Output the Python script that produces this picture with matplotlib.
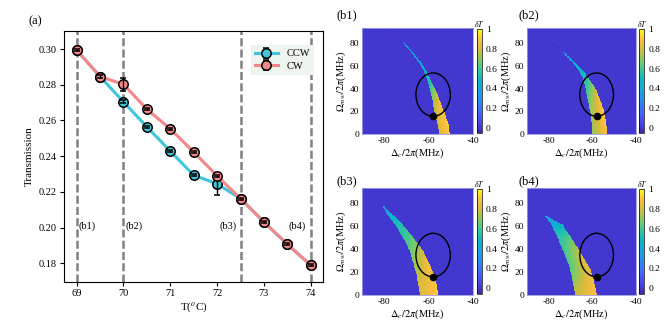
import numpy as np
import matplotlib
matplotlib.use("Agg")
import matplotlib.pyplot as plt
from matplotlib.colors import LinearSegmentedColormap
from matplotlib.patches import Ellipse

plt.rcParams['font.family'] = ['Liberation Serif', 'DejaVu Serif']
plt.rcParams['mathtext.fontset'] = 'stix'
plt.rcParams['axes.unicode_minus'] = False

# ---------------- panel (a) data ----------------
temps = [69.0, 69.5, 70.0, 70.5, 71.0, 71.5, 72.0, 72.5, 73.0, 73.5, 74.0]
cw_vals = [0.2994, 0.2846, 0.2802, 0.2663, 0.2552, 0.2423, 0.2289, 0.2162, 0.2031, 0.1906, 0.1789]
cw_err = [0.0006, 0.0006, 0.0035, 0.0006, 0.0006, 0.0006, 0.0008, 0.0006, 0.0006, 0.0006, 0.0006]
ccw_vals = [0.2994, 0.2846, 0.2704, 0.2564, 0.2428, 0.2293, 0.2245, 0.2162, 0.2031, 0.1906, 0.1789]
ccw_err = [0.0006, 0.0006, 0.0008, 0.0006, 0.0006, 0.0006, 0.0060, 0.0006, 0.0006, 0.0006, 0.0006]
vline_temps = [69.0, 70.0, 72.5, 74.0]
region_labels = ['(b1)', '(b2)', '(b3)', '(b4)']
region_label_x = [69.04, 70.05, 72.04, 73.52]
region_label_y = 0.2009

# ---------------- heat-map panels data ----------------
# band description: Omega rows, left/right detuning edge, value at left/right edge
panel_names = ['(b1)', '(b2)', '(b3)', '(b4)']
band_omega = [
    [0, 9, 18, 27, 36, 45, 54, 62, 70, 80, 81.5, 90],
    [0, 12, 20, 27, 35, 42, 50, 54, 62, 71, 72.5, 84],
    [0, 9, 17, 23, 30, 38, 45, 52, 60, 67, 72, 77],
    [0, 9, 16, 23, 30, 38, 45, 52, 57, 61, 65, 69],
]
band_left = [
    [-55.3, -56.0, -57.2, -58.0, -59.0, -60.2, -61.8, -64.0, -67.0, -71.3, -72.4, -79.6],
    [-60.0, -60.3, -61.0, -61.8, -62.6, -63.3, -64.4, -65.6, -68.5, -73.2, -74.2, -80.0],
    [-63.9, -64.6, -65.3, -66.1, -67.2, -68.4, -70.0, -72.1, -74.6, -77.3, -79.0, -80.5],
    [-67.9, -68.7, -69.4, -70.2, -71.5, -73.2, -74.8, -76.3, -77.6, -78.6, -80.2, -81.6],
]
band_right = [
    [-50.5, -51.2, -52.7, -54.5, -56.2, -58.6, -60.6, -63.0, -66.2, -70.6, -71.9, -79.2],
    [-53.2, -53.7, -54.6, -55.7, -57.4, -59.0, -62.3, -63.3, -67.2, -72.3, -73.8, -79.6],
    [-55.7, -56.4, -57.4, -58.7, -60.4, -62.4, -64.8, -67.6, -71.0, -74.3, -77.2, -79.8],
    [-58.0, -58.8, -59.8, -61.0, -63.2, -65.6, -68.0, -70.2, -72.3, -73.2, -77.5, -80.8],
]
band_val_left = [
    [0.80, 0.80, 0.78, 0.72, 0.62, 0.52, 0.46, 0.43, 0.40, 0.36, -0.03, -0.03],
    [0.70, 0.72, 0.70, 0.66, 0.60, 0.55, 0.50, 0.46, 0.42, 0.38, -0.03, -0.03],
    [0.82, 0.80, 0.76, 0.72, 0.68, 0.64, 0.60, 0.56, 0.52, 0.46, 0.42, 0.38],
    [0.78, 0.72, 0.66, 0.62, 0.60, 0.58, 0.56, 0.54, 0.50, 0.45, 0.40, 0.36],
]
band_val_right = [
    [0.92, 0.93, 0.92, 0.90, 0.80, 0.58, 0.48, 0.44, 0.41, 0.37, -0.03, -0.03],
    [0.90, 0.92, 0.92, 0.90, 0.85, 0.72, 0.56, 0.48, 0.43, 0.39, -0.03, -0.03],
    [0.92, 0.90, 0.90, 0.90, 0.88, 0.80, 0.70, 0.62, 0.56, 0.48, 0.43, 0.38],
    [0.90, 0.90, 0.88, 0.86, 0.84, 0.78, 0.70, 0.60, 0.52, 0.46, 0.40, 0.36],
]
background_val = 0.0
ellipse_center = (-58.0, 34.8)
ellipse_size = (15.4, 38.0)
dot_point = (-58.0, 15.8)
det_lim = (-90, -40)
omega_lim = (0, 93)
cbar_ticks = [0, 0.2, 0.4, 0.6, 0.8, 1]
cbar_ticklabels = ['0', '0.2', '0.4', '0.6', '0.8', '1']

parula_anchor = [
    (0.00, (0.2422, 0.1504, 0.6603)),
    (0.10, (0.2760, 0.2700, 0.9300)),
    (0.20, (0.2600, 0.4000, 0.9900)),
    (0.30, (0.1700, 0.5300, 0.9600)),
    (0.40, (0.1100, 0.6300, 0.8900)),
    (0.50, (0.0300, 0.7100, 0.7900)),
    (0.60, (0.2000, 0.7700, 0.6200)),
    (0.70, (0.4900, 0.8000, 0.3900)),
    (0.80, (0.8100, 0.7300, 0.2400)),
    (0.90, (0.9900, 0.7500, 0.2400)),
    (1.00, (0.9769, 0.9839, 0.0805)),
]
parula = LinearSegmentedColormap.from_list('parula', parula_anchor)

cw_color = '#f4878a'
ccw_color = '#3fc6da'

fig = plt.figure(figsize=(6.64, 3.32), dpi=100)

# ---------------- panel (a) ----------------
ax = fig.add_axes([0.0964, 0.1506, 0.39, 0.756])
for xv in vline_temps:
    ax.axvline(xv, color='#808080', lw=1.8, ls=(0, (3.2, 1.3)), zorder=1)

def eb(vals, err, color, label, z):
    cont = ax.errorbar(temps, vals, yerr=err, color=color, lw=2.2, marker='o', ms=6.8,
                       mfc=color, mec='black', mew=1.1, ecolor='black', elinewidth=1.0,
                       capsize=2.2, capthick=1.0, label=label, zorder=z)
    for c in cont[1]:
        c.set_zorder(z + 0.5)
    for c in cont[2]:
        c.set_zorder(z + 0.5)
    return cont

eb(ccw_vals, ccw_err, ccw_color, 'CCW', 3)
eb(cw_vals, cw_err, cw_color, 'CW', 4)

for lab, lx in zip(region_labels, region_label_x):
    ax.text(lx, region_label_y, lab, fontsize=7.5, ha='left', va='center')

ax.set_xticks([69, 70, 71, 72, 73, 74])
ax.set_yticks([0.18, 0.20, 0.22, 0.24, 0.26, 0.28, 0.30])
ax.set_yticklabels(['0.18', '0.20', '0.22', '0.24', '0.26', '0.28', '0.30'])
ax.set_xlim(68.73, 74.26)
ax.set_ylim(0.1695, 0.3101)
ax.tick_params(labelsize=7.5, length=3, width=0.8, pad=2)
ax.set_xlabel('T($^o$C)', fontsize=8, labelpad=2)
ax.set_ylabel('Transmission', fontsize=8, labelpad=4)
leg = ax.legend(loc='upper right', fontsize=7.5, frameon=True, facecolor='#eef5ee',
                edgecolor='none', framealpha=1, bbox_to_anchor=(0.985, 0.965),
                handlelength=2.2, borderpad=0.4, labelspacing=0.3)
leg.get_frame().set_boxstyle('square', pad=0)
fig.text(0.053, 0.937, '(a)', fontsize=9, ha='center', va='center')

# ---------------- heat maps ----------------
nx, ny = 260, 186
xs = np.linspace(det_lim[0], det_lim[1], nx)
ys = np.linspace(omega_lim[0], omega_lim[1], ny)

def build_map(k):
    om = np.array(band_omega[k], float)
    grid = np.full((ny, nx), background_val)
    for j, yv in enumerate(ys):
        if yv > om[-1]:
            continue
        l = np.interp(yv, om, band_left[k])
        r = np.interp(yv, om, band_right[k])
        vl = np.interp(yv, om, band_val_left[k])
        vr = np.interp(yv, om, band_val_right[k])
        if r - l < 0.35:
            c = 0.5 * (l + r); l, r = c - 0.18, c + 0.18
        m = (xs >= l) & (xs <= r)
        t = (xs[m] - l) / max(r - l, 1e-6)
        grid[j, m] = vl + (vr - vl) * t
    return grid

ax_pos = [
    [0.5447, 0.5955, 0.1681, 0.3193],
    [0.7932, 0.5955, 0.1646, 0.3193],
    [0.5447, 0.1114, 0.1681, 0.3214],
    [0.7932, 0.1114, 0.1646, 0.3214],
]
cb_pos = [
    [0.7179, 0.5985, 0.0075, 0.3133],
    [0.9631, 0.5985, 0.0075, 0.3133],
    [0.7179, 0.1145, 0.0075, 0.3160],
    [0.9631, 0.1145, 0.0075, 0.3160],
]
label_pos = [(0.523, 0.953), (0.797, 0.953), (0.523, 0.455), (0.797, 0.455)]
ylabels = [r'$\Omega_{mw}/2\pi$(MHz)'] * 4
xlabel = r'$\Delta_c/2\pi$(MHz)'

for k in range(4):
    hx = fig.add_axes(ax_pos[k])
    grid = build_map(k)
    im = hx.pcolormesh(xs, ys, grid, cmap=parula, vmin=-0.058, vmax=1.0,
                       shading='nearest', rasterized=True)
    hx.add_patch(Ellipse(ellipse_center, ellipse_size[0], ellipse_size[1], fill=False,
                         ec='black', lw=1.0, zorder=3))
    hx.plot([dot_point[0]], [dot_point[1]], 'o', color='black', ms=4.5, zorder=4)
    hx.set_xlim(*det_lim)
    hx.set_ylim(*omega_lim)
    hx.set_xticks([-80, -60, -40])
    hx.set_yticks([0, 20, 40, 60, 80])
    hx.tick_params(labelsize=6.8, length=0, pad=2)
    for s in hx.spines.values():
        s.set_edgecolor('#9a9ae0')
        s.set_linewidth(0.6)
    hx.set_xlabel(xlabel, fontsize=7.5, labelpad=1)
    hx.set_ylabel(ylabels[k], fontsize=7.5, labelpad=1)
    cax = fig.add_axes(cb_pos[k])
    cb = fig.colorbar(im, cax=cax, ticks=cbar_ticks)
    cb.ax.set_yticklabels(cbar_ticklabels)
    cb.ax.tick_params(labelsize=6.8, length=0, pad=3)
    cb.outline.set_linewidth(0.5)
    cax.set_title(r'$\delta T$', fontsize=5.5, pad=1)
    fig.text(label_pos[k][0], label_pos[k][1], panel_names[k], fontsize=9,
             ha='center', va='center')

fig.savefig('out.png', dpi=100)
